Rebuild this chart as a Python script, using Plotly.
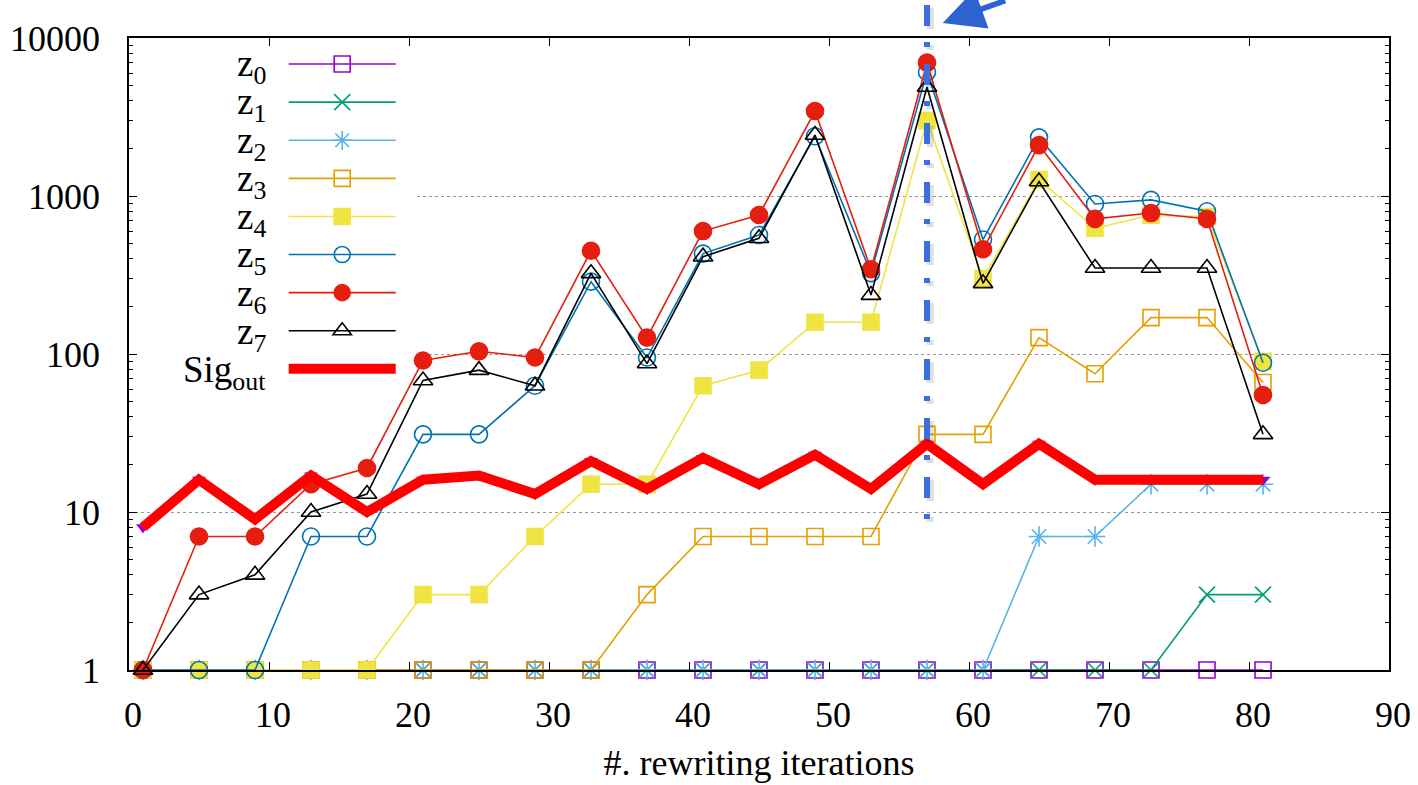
import plotly.graph_objects as go

iterations = [1, 5, 9, 13, 17, 21, 25, 29, 33, 37, 41, 45, 49, 53, 57, 61, 65, 69, 73, 77, 81]
z0 = [1, 1, 1, 1, 1, 1, 1, 1, 1, 1, 1, 1, 1, 1, 1, 1, 1, 1, 1, 1, 1]
z1 = [1, 1, 1, 1, 1, 1, 1, 1, 1, 1, 1, 1, 1, 1, 1, 1, 1, 1, 1, 3, 3]
z2 = [1, 1, 1, 1, 1, 1, 1, 1, 1, 1, 1, 1, 1, 1, 1, 1, 7, 7, 15, 15, 15]
z3 = [1, 1, 1, 1, 1, 1, 1, 1, 1, 3, 7, 7, 7, 7, 31, 31, 127, 75, 170, 170, 66]
z4 = [1, 1, 1, 1, 1, 3, 3, 7, 15, 15, 63, 79, 159, 159, 3000, 300, 1270, 625, 755, 740, 90]
z5 = [1, 1, 1, 7, 7, 31, 31, 63, 287, 95, 432, 566, 2390, 325, 6100, 530, 2350, 890, 945, 800, 88]
z6 = [1, 7, 7, 15, 19, 91, 104, 95, 450, 127, 600, 758, 3450, 344, 6980, 460, 2100, 716, 780, 716, 55]
z7 = [1, 3, 4, 10, 13, 68, 79, 63, 324, 87, 413, 540, 2430, 236, 4900, 280, 1236, 350, 350, 350, 31]
sig_out = [8, 16, 9, 17, 10, 16, 17, 13, 21, 14, 22, 15, 23, 14, 27, 15, 27, 16, 16, 16, 16]
marked_iteration = 57

series_labels = ["z<sub>0</sub>", "z<sub>1</sub>", "z<sub>2</sub>", "z<sub>3</sub>", "z<sub>4</sub>",
                 "z<sub>5</sub>", "z<sub>6</sub>", "z<sub>7</sub>", "Sig<sub>out</sub>"]
y_tickvals = [1, 10, 100, 1000, 10000]
y_ticktext = ["1", "10", "100", "1000", "10000"]
x_label = "#. rewriting iterations"

series = [z0, z1, z2, z3, z4, z5, z6, z7]
colors = ["#9400d3", "#009e73", "#56b4e9", "#e69f00", "#f0e442", "#0072b2", "#e51e10", "#000000"]
symbols = ["square-open", "x-thin-open", "asterisk-open", "square-open", "square",
           "circle-open", "circle", "triangle-up-open"]
sizes = [16, 16, 17, 16, 16, 17, 17, 17]

FONT = "Liberation Serif"
fig = go.Figure()

for vals, col, sym, sz in zip(series, colors, symbols, sizes):
    fig.add_trace(go.Scatter(
        x=iterations, y=vals, mode="lines+markers", name="",
        line=dict(color=col, width=1.6),
        marker=dict(symbol=sym, size=sz, color=col, line=dict(color=col, width=1.6)),
        cliponaxis=False, showlegend=True))

fig.add_trace(go.Scatter(
    x=iterations, y=sig_out, mode="markers", showlegend=False,
    marker=dict(symbol="triangle-down", size=12, color="#9400d3"), cliponaxis=False))
fig.add_trace(go.Scatter(
    x=iterations, y=sig_out, mode="lines", name="",
    line=dict(color="#ff0000", width=10), showlegend=True, cliponaxis=False))

# white key background hiding the grid behind the key
fig.add_shape(type="rect", xref="x", yref="y", x0=0, x1=20.4, y0=63.7, y1=9700,
              fillcolor="white", line=dict(width=0), layer="between")

# marked iteration: dash-dot vertical line (with soft shadow)
dash_pat = "5px,16px,21px,17px"
fig.add_shape(type="line", xref="x", yref="paper", x0=marked_iteration + 0.22, x1=marked_iteration + 0.22,
              y0=(670 - 522) / 632, y1=(670 + 3) / 632,
              line=dict(color="rgba(0,0,0,0.13)", width=7, dash=dash_pat), layer="above")
fig.add_shape(type="line", xref="x", yref="paper", x0=marked_iteration, x1=marked_iteration,
              y0=(670 - 519) / 632, y1=670 / 632,
              line=dict(color="#3b6fe0", width=6, dash=dash_pat), layer="above")

fig.add_annotation(xref="paper", yref="paper", x=(943 - 129.3) / 1260, y=(670 - 23) / 632, ax=64, ay=-34,
                   text="", showarrow=True, arrowhead=2, arrowsize=1.5, arrowwidth=5.5,
                   arrowcolor="#2e62d0")

# key labels (text left of samples, gnuplot style)
for i, lab in enumerate(series_labels):
    py = 62.7 + 38.25 * i + 4
    fig.add_annotation(xref="paper", yref="paper", x=(268 - 129.3) / 1260, y=(670 - py) / 632,
                       xanchor="right", yanchor="middle", text=lab, showarrow=False,
                       font=dict(family=FONT, size=37, color="black"))

fig.update_layout(
    width=1418, height=785, margin=dict(l=129, r=29, t=38, b=115),
    paper_bgcolor="white", plot_bgcolor="white",
    font=dict(family=FONT, size=36, color="black"),
    showlegend=True,
    legend=dict(x=(284 - 129.3) / 1260, y=(670 - 40) / 632, xanchor="left", yanchor="top",
                bgcolor="rgba(0,0,0,0)", borderwidth=0, itemwidth=107,
                font=dict(family=FONT, size=27), tracegroupgap=0),
    xaxis=dict(range=[0, 90], dtick=10, tick0=0, ticks="inside", ticklen=8, tickcolor="black",
               mirror="ticks", showline=True, linecolor="black", linewidth=1.5, showgrid=False,
               zeroline=False, ticklabelstandoff=12, ticklabelshift=4, automargin=False,
               tickfont=dict(family=FONT, size=36),
               title=dict(text=x_label, font=dict(family=FONT, size=36), standoff=16)),
    yaxis=dict(type="log", range=[0, 4], tickmode="array", tickvals=y_tickvals, ticktext=y_ticktext,
               ticks="inside", ticklen=8, tickcolor="black", mirror="ticks", showline=True,
               linecolor="black", linewidth=1.5, showgrid=True, gridcolor="#999999", griddash="dot",
               gridwidth=1, zeroline=False, ticklabelstandoff=20, automargin=False,
               tickfont=dict(family=FONT, size=36),
               minor=dict(ticks="inside", ticklen=4, tickcolor="black", dtick="D1", showgrid=False)),
)

fig.write_html("out.html")
